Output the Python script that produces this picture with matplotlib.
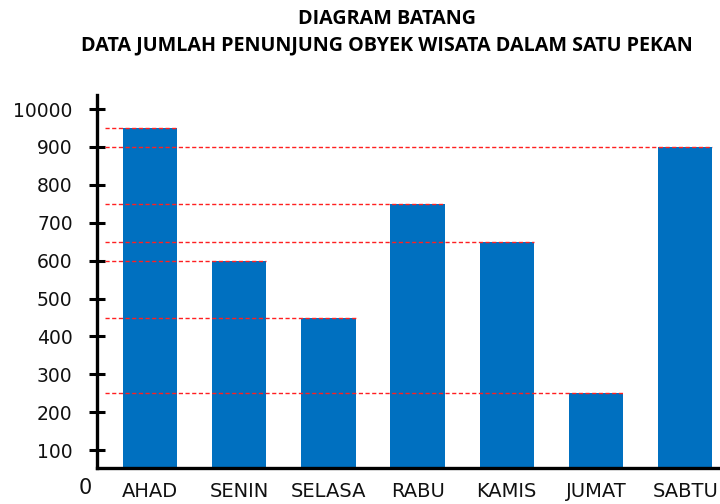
import numpy as np
import matplotlib.pyplot as plt

# Data
hari = ['AHAD', 'SENIN', 'SELASA', 'RABU', 'KAMIS', 'JUMAT', 'SABTU']
pengunjung = [950, 600, 450, 750, 650, 250, 900]
y_ticks = [100, 200, 300, 400, 500, 600, 700, 800, 900, 1000]
y_labels = ['100', '200', '300', '400', '500', '600', '700', '800', '900', '10000']

fig = plt.figure(figsize=(7.2, 5.04), dpi=100)
ax = fig.add_axes([0.1347, 0.0714, 0.8653, 0.7401])

x = np.arange(len(hari))
width = 0.61
ax.bar(x, pengunjung, width=width, color='#0070C0', zorder=2)

# dashed guide lines from the axis to each bar top
ax.hlines(pengunjung, -0.5, x + width / 2, colors='#FF2020',
          linestyles=(0, (3, 1.8)), linewidth=1.0, zorder=3)

ax.set_xlim(-0.594, 6.39)
ax.set_ylim(53, 1037)

ax.set_xticks(x)
ax.set_xticklabels(hari, fontsize=14, color='#111111')
ax.tick_params(axis='x', length=0, pad=10)

ax.set_yticks(y_ticks)
ax.set_yticklabels(y_labels, fontsize=13.5, color='#111111')
ax.tick_params(axis='y', direction='inout', length=11, width=2.2, pad=12)

for side in ['top', 'right']:
    ax.spines[side].set_visible(False)
for side in ['left', 'bottom']:
    ax.spines[side].set_linewidth(2.4)

ax.text(-0.73, 0, '0', fontsize=15, ha='center', va='center',
        color='#111111', clip_on=False)

fig.text(0.538, 0.963, 'DIAGRAM BATANG', ha='center', va='center',
         fontsize=14.2, fontweight='bold', family='Open Sans')
fig.text(0.538, 0.91, 'DATA JUMLAH PENUNJUNG OBYEK WISATA DALAM SATU PEKAN',
         ha='center', va='center', fontsize=14.2, fontweight='bold',
         family='Open Sans')

fig.savefig('out.png', dpi=100)
